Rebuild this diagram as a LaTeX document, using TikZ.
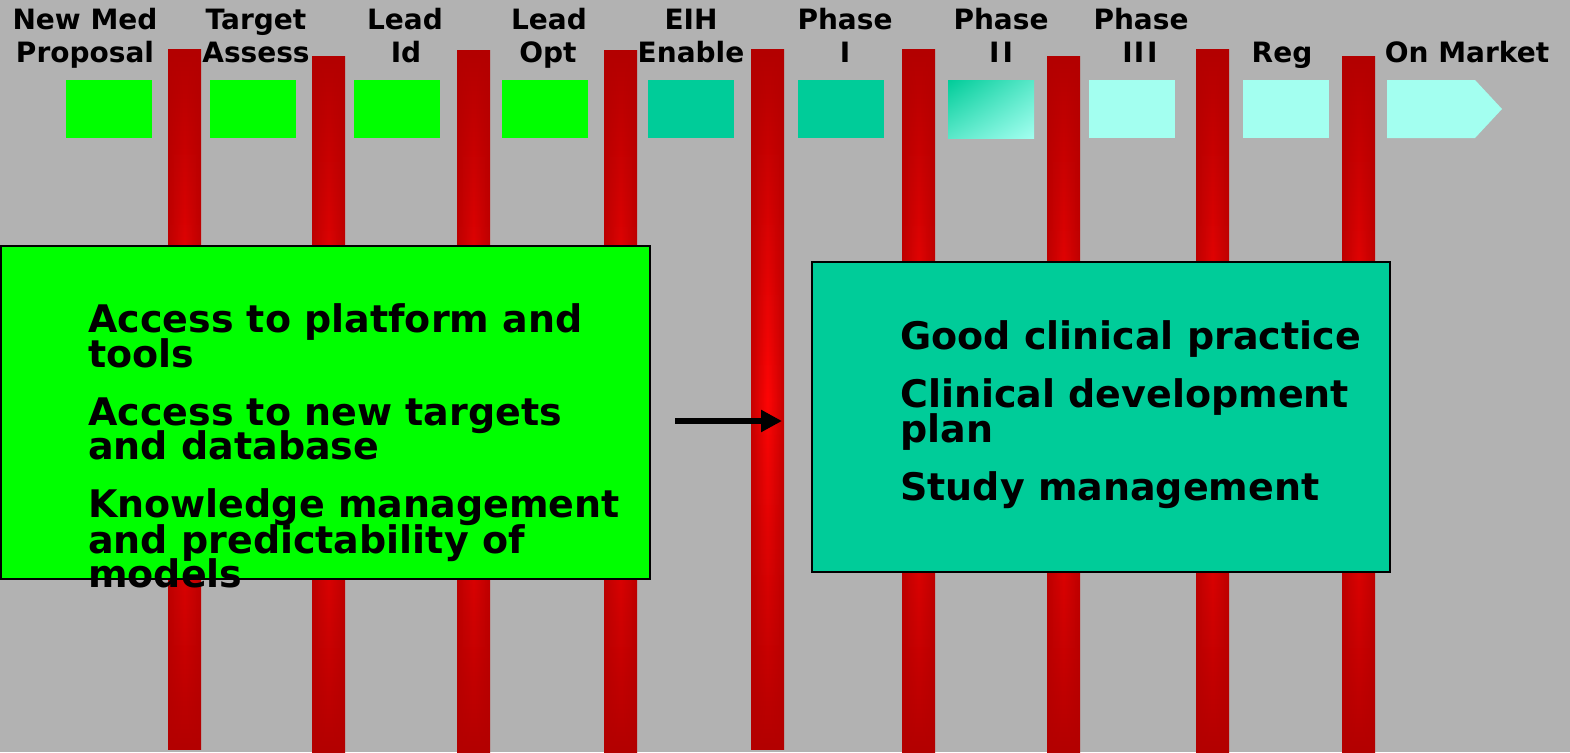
\documentclass[tikz,border=0pt]{standalone}
\usepackage{fontspec}
\setmainfont{DejaVu Sans}
\usetikzlibrary{arrows.meta,fadings,shadings}

\definecolor{bgray}{HTML}{B2B2B2}
\definecolor{stgreen}{HTML}{00FF00}
\definecolor{stteal}{HTML}{00CC99}
\definecolor{stcyan}{HTML}{A3FFF0}
\definecolor{bard}{HTML}{B30000}
\definecolor{barl}{HTML}{FF0505}

% darkening towards both long edges of a gate bar
\tikzfading[name=baredge, left color=transparent!0, right color=transparent!0, middle color=transparent!100]

\tikzset{
  phasebox/.style={minimum width=86pt, minimum height=58pt, inner sep=0pt, outer sep=0pt, anchor=north west},
  bigbox/.style={draw=black, line width=1.5pt, inner sep=0pt, outer sep=0pt, anchor=north west},
  hdr/.style={font=\bfseries\fontsize{28}{28}\selectfont, inner sep=0pt, anchor=base},
  ltxt/.style={font=\bfseries\fontsize{38}{38}\selectfont, inner sep=0pt, anchor=base west},
  rtxt/.style={font=\bfseries\fontsize{38}{38}\selectfont, inner sep=0pt, anchor=base west},
  flowarrow/.style={line width=6.6pt, -{Triangle[length=21pt,width=21pt]}}
}

\begin{document}
\begin{tikzpicture}[x=1pt,y=-1pt]
\useasboundingbox (0,0) rectangle (1570,752);
\fill[bgray] (0,0) rectangle (1570,752);

% gate bars between the stages
\foreach \bx/\bt/\bb in {168/50/749, 312/57/752, 457/51/752, 604/51/752, 751/50/749,
                         902/50/752, 1047/57/752, 1196/50/752, 1342/57/752}{
  \shade[top color=bard, bottom color=bard, middle color=barl] (\bx,\bt) rectangle (\bx+33,\bb);
  \fill[bard, path fading=baredge, fill opacity=0.75] (\bx,\bt) rectangle (\bx+33,\bb);
}

% stage boxes
\node[phasebox, fill=stgreen] (s1) at (66,80) {};
\node[phasebox, fill=stgreen] (s2) at (210,80) {};
\node[phasebox, fill=stgreen] (s3) at (354,80) {};
\node[phasebox, fill=stgreen] (s4) at (502,80) {};
\node[phasebox, fill=stteal] (s5) at (648,80) {};
\node[phasebox, fill=stteal] (s6) at (798,80) {};
\node[phasebox, shade, upper left=stteal, upper right=stteal!45!stcyan,
      lower left=stteal!45!stcyan, lower right=stcyan] (s7) at (948,80) {};
\node[phasebox, fill=stcyan] (s8) at (1089,80) {};
\node[phasebox, fill=stcyan] (s9) at (1243,80) {};
\fill[stcyan] (1387,80) -- (1475,80) -- (1502,109) -- (1475,138) -- (1387,138) -- cycle;

% stage labels
\node[hdr] (h1a) at (85,30) {New Med};
\node[hdr] (h1b) at (85,63) {Proposal};
\node[hdr] (h2a) at (256,30) {Target};
\node[hdr] (h2b) at (256,63) {Assess};
\node[hdr] (h3a) at (405,30) {Lead};
\node[hdr] (h3b) at (406,63) {Id};
\node[hdr] (h4a) at (549,30) {Lead};
\node[hdr] (h4b) at (548,63) {Opt};
\node[hdr] (h5a) at (691,30) {EIH};
\node[hdr] (h5b) at (691,63) {Enable};
\node[hdr] (h6a) at (845,30) {Phase};
\node[hdr] (h6b) at (845,63) {I};
\node[hdr] (h7a) at (1001,30) {Phase};
\node[hdr] (h7b) at (1001,63) {I\kern3pt I};
\node[hdr] (h8a) at (1141,30) {Phase};
\node[hdr] (h8b) at (1140,63) {I\kern1pt I\kern3pt I};
\node[hdr] (h9b) at (1282,63) {Reg};
\node[hdr] (h10b) at (1467,63) {On Market};

% discovery capabilities
\node[bigbox, fill=stgreen, minimum width=649pt, minimum height=333pt] (lbox) at (0.75,245.75) {};
\node[ltxt] (l1) at (88,332) {Access to platform and};
\node[ltxt] (l2) at (88,367) {tools};
\node[ltxt] (l3) at (88,425) {Access to new targets};
\node[ltxt] (l4) at (88,459) {and database};
\node[ltxt] (l5) at (88,517) {Knowledge management};
\node[ltxt] (l6) at (88,553) {and predictability of};
\node[ltxt] (l7) at (88,587) {models};

% development capabilities
\node[bigbox, fill=stteal, minimum width=578pt, minimum height=310pt] (rbox) at (811.75,261.75) {};
\node[rtxt] (r1) at (900,349) {Good clinical practice};
\node[rtxt] (r2) at (900,407) {Clinical development};
\node[rtxt] (r3) at (900,442) {plan};
\node[rtxt] (r4) at (900,500) {Study management};

% hand-over arrow
\coordinate (astart) at (675,421);
\coordinate (aend) at (782,421);
\draw[flowarrow] (astart) -- (aend);
\end{tikzpicture}
\end{document}
